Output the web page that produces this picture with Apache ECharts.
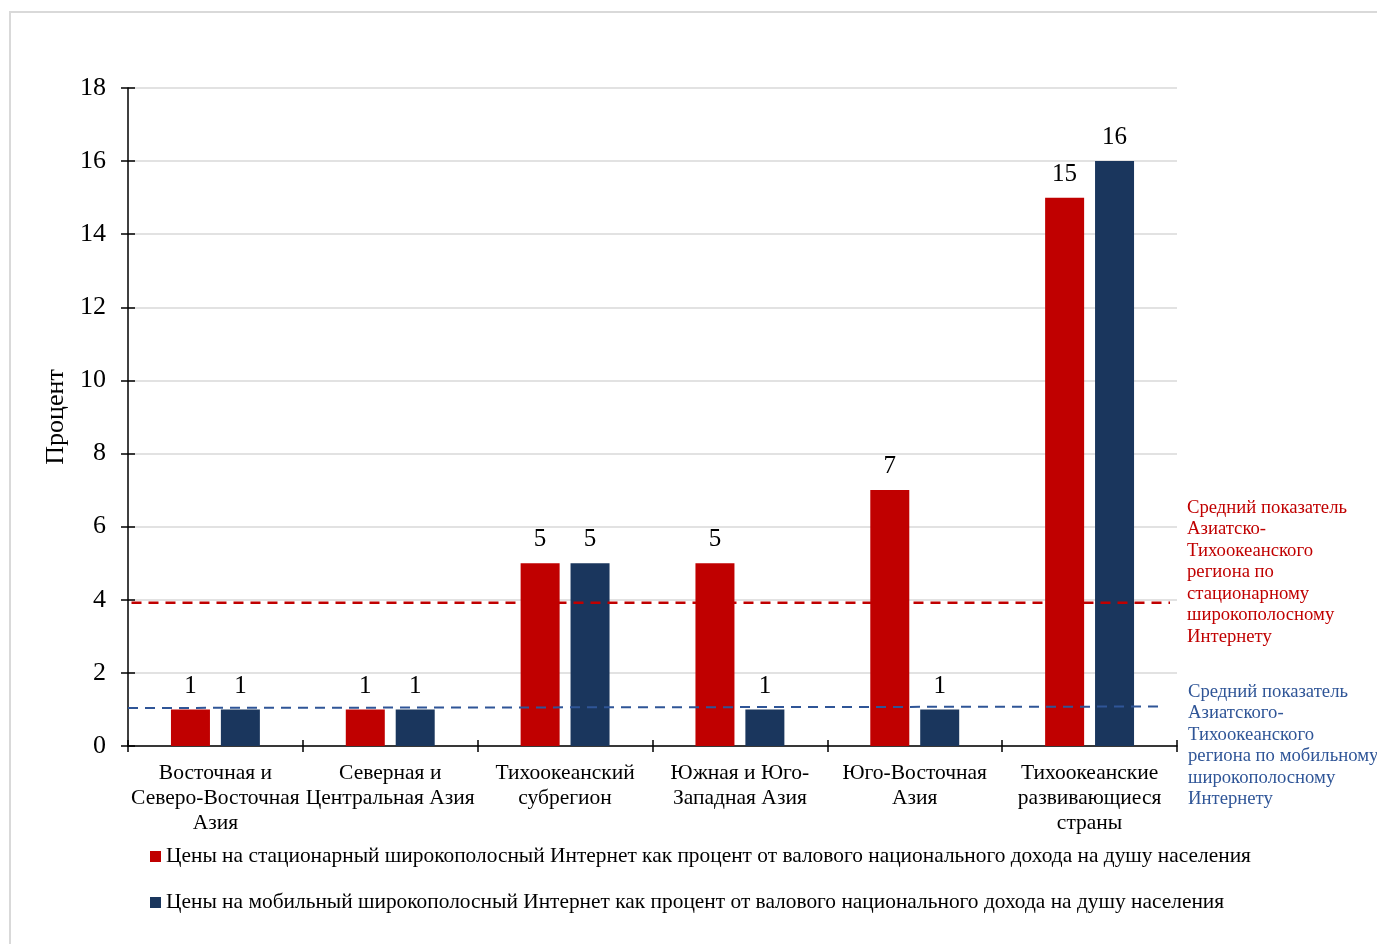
<!DOCTYPE html>
<html>
<head>
<meta charset="utf-8">
<script src="https://cdn.jsdelivr.net/npm/echarts@6/dist/echarts.min.js"></script>
<style>
  html, body { margin: 0; padding: 0; background: #ffffff; }
  #chart { width: 1377px; height: 944px; }
</style>
</head>
<body>
<div id="chart"></div>
<script>
// Regions (category axis)
const categories = [
  'Восточная и\nСеверо-Восточная\nАзия',
  'Северная и\nЦентральная Азия',
  'Тихоокеанский\nсубрегион',
  'Южная и Юго-\nЗападная Азия',
  'Юго-Восточная\nАзия',
  'Тихоокеанские\nразвивающиеся\nстраны'
];

// Prices as percent of GNI per capita
const fixedPrices = [1, 1, 5, 5, 7, 15];
const mobilePrices = [1, 1, 5, 1, 1, 16];

// Asia-Pacific averages (dashed reference lines), [x position on 0..6 scale, value]
const fixedAverage = [[0.02, 3.92], [5.96, 3.92]];
const mobileAverage = [[0.0, 1.04], [5.93, 1.08]];

const yTicks = { min: 0, max: 18, interval: 2 };

const seriesNames = [
  'Цены на стационарный широкополосный Интернет как процент от валового национального дохода на душу населения',
  'Цены на мобильный широкополосный Интернет как процент от валового национального дохода на душу населения'
];

const fixedNote = 'Средний показатель\nАзиатско-\nТихоокеанского\nрегиона по\nстационарному\nширокополосному\nИнтернету';
const mobileNote = 'Средний показатель\nАзиатского-\nТихоокеанского\nрегиона по мобильному\nширокополосному\nИнтернету';

const RED = '#C00000';
const NAVY = '#1A365D';
const BLUE_LINE = '#2F5597';
const FONT = '"Liberation Serif", "Times New Roman", serif';

const chart = echarts.init(document.getElementById('chart'));

chart.setOption({
  backgroundColor: '#ffffff',
  animation: false,
  textStyle: { fontFamily: FONT },
  grid: { left: 128, top: 88, right: 200, bottom: 198 },
  graphic: [
    {
      type: 'rect',
      shape: { x: 10, y: 12, width: 1400, height: 960 },
      style: { fill: 'none', stroke: '#D9D9D9', lineWidth: 2 },
      z: -10
    },
    {
      type: 'text',
      x: 1187, y: 497,
      style: {
        text: fixedNote, fill: RED, font: '18.7px ' + FONT, lineHeight: 21.5
      }
    },
    {
      type: 'text',
      x: 1188, y: 681,
      style: {
        text: mobileNote, fill: BLUE_LINE, font: '18.7px ' + FONT, lineHeight: 21.5
      }
    }
  ],
  legend: {
    data: seriesNames,
    orient: 'vertical',
    left: 145,
    top: 841,
    itemWidth: 11,
    itemHeight: 11,
    itemGap: 25,
    icon: 'rect',
    textStyle: { fontFamily: FONT, fontSize: 21.4, color: '#000' }
  },
  xAxis: [
    {
      type: 'category',
      data: categories,
      axisLine: { lineStyle: { color: '#000', width: 1.5 } },
      axisTick: { show: true, length: 6, lineStyle: { color: '#000', width: 1.5 } },
      axisLabel: {
        color: '#000', fontSize: 21.5, fontFamily: FONT, lineHeight: 25,
        margin: 15, interval: 0
      },
      splitLine: { show: false }
    },
    {
      type: 'category',
      data: categories,
      position: 'bottom',
      axisLine: { show: false },
      axisTick: { show: true, inside: true, length: 6, lineStyle: { color: '#000', width: 1.5 } },
      axisLabel: { show: false },
      splitLine: { show: false }
    },
    {
      type: 'value',
      min: 0, max: 6,
      show: false
    }
  ],
  yAxis: [
    {
      type: 'value',
      min: yTicks.min, max: yTicks.max, interval: yTicks.interval,
      name: 'Процент',
      nameLocation: 'middle',
      nameGap: 58,
      nameRotate: 90,
      nameTextStyle: { color: '#000', fontSize: 26, fontFamily: FONT },
      axisLine: { show: true, lineStyle: { color: '#000', width: 1.5 } },
      axisTick: { show: true, length: 7, lineStyle: { color: '#000', width: 1.5 } },
      axisLabel: { color: '#000', fontSize: 26, fontFamily: FONT, margin: 22 },
      splitLine: { lineStyle: { color: '#D9D9D9', width: 1.5 } }
    },
    {
      type: 'value',
      min: yTicks.min, max: yTicks.max, interval: yTicks.interval,
      position: 'left',
      axisLine: { show: false },
      axisTick: { show: true, inside: true, length: 7, lineStyle: { color: '#000', width: 1.5 } },
      axisLabel: { show: false },
      splitLine: { show: false }
    }
  ],
  series: [
    {
      name: seriesNames[0],
      type: 'bar',
      data: fixedPrices,
      barWidth: 39,
      barGap: '28%',
      itemStyle: { color: RED },
      label: {
        show: true, position: 'top', distance: 11,
        color: '#000', fontSize: 25, fontFamily: FONT
      },
      z: 3
    },
    {
      name: seriesNames[1],
      type: 'bar',
      data: mobilePrices,
      barWidth: 39,
      barGap: '28%',
      itemStyle: { color: NAVY },
      label: {
        show: true, position: 'top', distance: 11,
        color: '#000', fontSize: 25, fontFamily: FONT
      },
      z: 3
    },
    {
      name: 'fixedAverage',
      type: 'line',
      xAxisIndex: 2,
      data: fixedAverage,
      symbol: 'none',
      lineStyle: { color: RED, width: 2.5, type: [10, 7] },
      z: 5,
      silent: true
    },
    {
      name: 'mobileAverage',
      type: 'line',
      xAxisIndex: 2,
      data: mobileAverage,
      symbol: 'none',
      lineStyle: { color: BLUE_LINE, width: 2, type: [10, 7] },
      z: 5,
      silent: true
    }
  ]
});
</script>
</body>
</html>
